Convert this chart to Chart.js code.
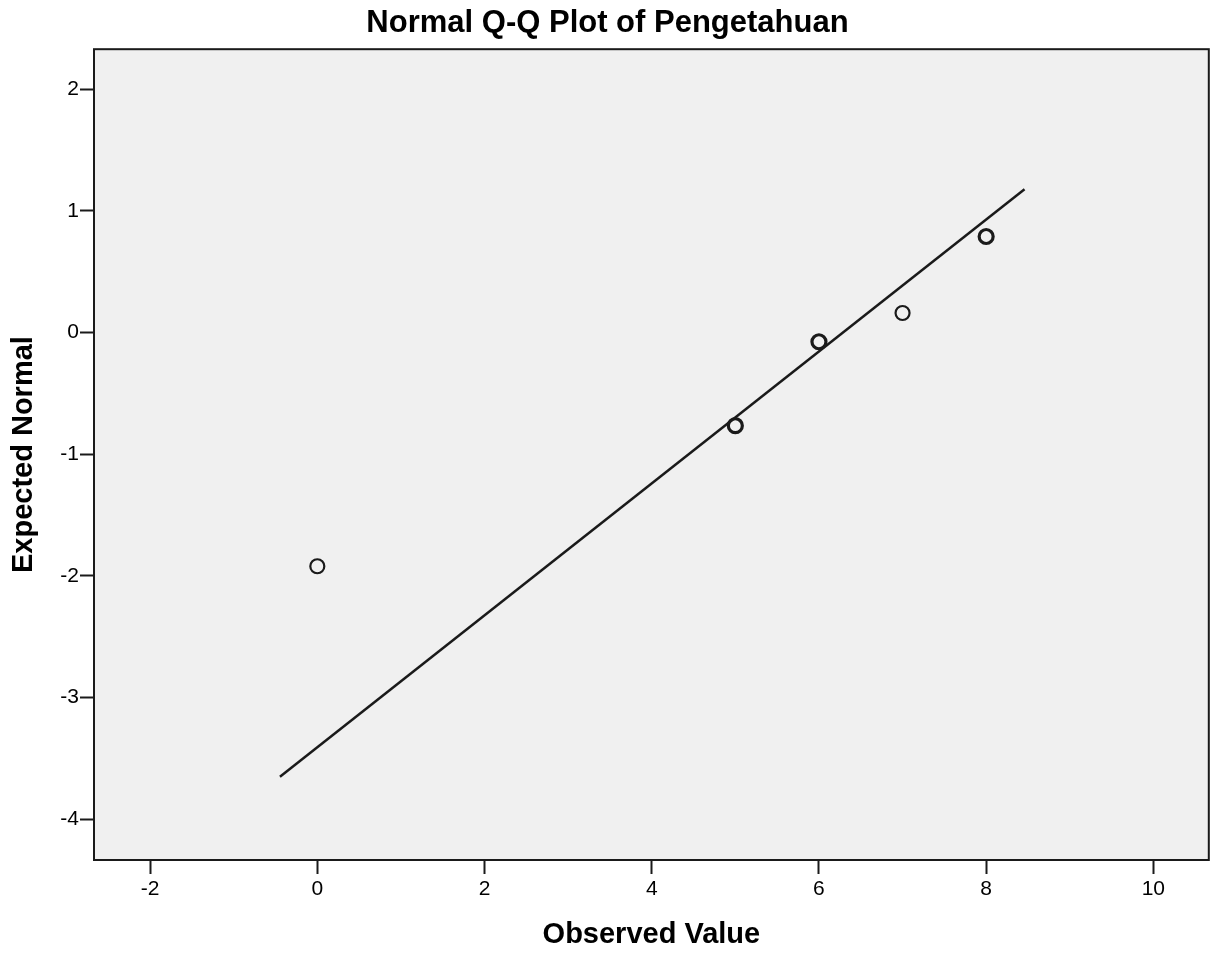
<!DOCTYPE html>
<html>
<head>
<meta charset="utf-8">
<script src="https://cdn.jsdelivr.net/npm/chart.js@4"></script>
<style>
  html, body { margin: 0; padding: 0; background: #fff; overflow: hidden; }
  canvas { display: block; }
</style>
</head>
<body>
<canvas id="qq" width="1219" height="953"></canvas>
<script>
// Normal Q-Q plot — values
const observed = [0, 5, 6, 7, 8];
const expected = [-1.92, -0.765, -0.075, 0.161, 0.79];
const tieCounts = [1, 2, 2, 1, 2];   // tied cases drawn on top of each other

// reference line end points
const lineX = [-0.447, 8.459];
const lineY = [-3.650, 1.178];

const xTicks = [-2, 0, 2, 4, 6, 8, 10];
const yTicks = [2, 1, 0, -1, -2, -3, -4];

const INK = '#1a1a1a';

const points = observed.map((x, i) => ({ x, y: expected[i] }));
const fitLine = lineX.map((x, i) => ({ x, y: lineY[i] }));

// panel background + frame
const panel = {
  id: 'panel',
  beforeDatasetsDraw(chart) {
    const { ctx, chartArea: a } = chart;
    ctx.save();
    ctx.fillStyle = '#f0f0f0';
    ctx.fillRect(a.left, a.top, a.right - a.left, a.bottom - a.top);
    ctx.restore();
  },
  afterDraw(chart) {
    const { ctx, chartArea: a } = chart;
    ctx.save();
    ctx.strokeStyle = INK;
    ctx.lineWidth = 2;
    ctx.strokeRect(a.left, a.top, a.right - a.left, a.bottom - a.top);
    ctx.restore();
  }
};

const tickFont = { family: '"Liberation Sans", Arial, sans-serif', size: 21 };
const titleFont = { family: '"Liberation Sans", Arial, sans-serif', size: 29, weight: 'bold' };

new Chart(document.getElementById('qq'), {
  type: 'scatter',
  data: {
    datasets: [
      {
        type: 'line',
        data: fitLine,
        borderColor: INK,
        borderWidth: 2.5,
        pointRadius: 0,
        fill: false,
        order: 2,
      },
      {
        data: points,
        pointStyle: 'circle',
        pointRadius: 7,
        backgroundColor: 'rgba(0,0,0,0)',
        borderColor: INK,
        borderWidth: ctx => tieCounts[ctx.dataIndex] > 1 ? 3.2 : 2.2,
        order: 1,
      }
    ]
  },
  options: {
    responsive: false,
    animation: false,
    devicePixelRatio: 1,
    layout: { padding: { left: 0, right: 4, top: 0, bottom: 0 } },
    plugins: {
      legend: { display: false },
      tooltip: { enabled: false },
      title: {
        display: true,
        text: 'Normal Q-Q Plot of Pengetahuan',
        color: '#000',
        font: { family: '"Liberation Sans", Arial, sans-serif', size: 31, weight: 'bold' },
        padding: { top: 5, bottom: 7 },
      }
    },
    scales: {
      x: {
        type: 'linear',
        min: -2.671, max: 10.663,
        afterBuildTicks: s => { s.ticks = xTicks.map(v => ({ value: v })); },
        afterFit: s => { s.height = 93; s.paddingLeft = 0; s.paddingRight = 0; },
        border: { display: false },
        grid: { drawOnChartArea: false, tickLength: 14, tickWidth: 2, tickColor: INK },
        ticks: { color: '#000', font: tickFont, padding: 3, maxRotation: 0 },
        title: { display: true, text: 'Observed Value', color: '#000', font: titleFont, padding: { top: 0, bottom: 1 } }
      },
      y: {
        type: 'linear',
        min: -4.334, max: 2.329,
        afterBuildTicks: s => { s.ticks = yTicks.map(v => ({ value: v })); },
        afterFit: s => { s.width = 94; s.paddingTop = 0; s.paddingBottom = 0; },
        border: { display: false },
        grid: { drawOnChartArea: false, tickLength: 14, tickWidth: 2, tickColor: INK },
        ticks: { color: '#000', font: tickFont, padding: 1 },
        title: { display: true, text: 'Expected Normal', color: '#000', font: titleFont, padding: { top: 7, bottom: 0 } }
      }
    }
  },
  plugins: [panel]
});
</script>
</body>
</html>
